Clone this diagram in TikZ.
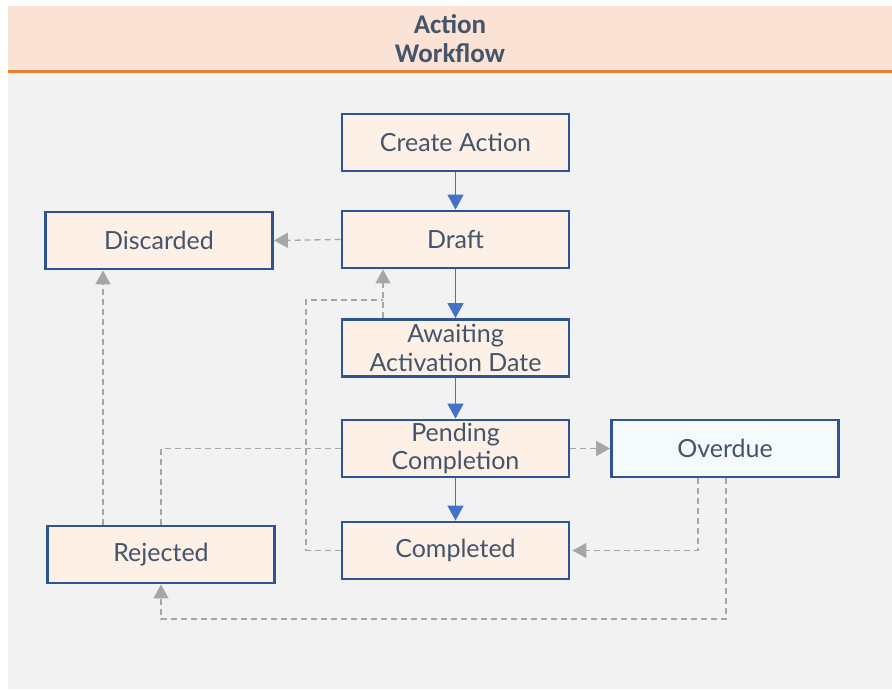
\documentclass[tikz,border=0pt]{standalone}
\usepackage{fontspec}
\setmainfont{Lato}
\newfontfamily\titlefont{Carlito}
\usetikzlibrary{arrows.meta}
\definecolor{hdrfill}{HTML}{FAE3D5}
\definecolor{hdrline}{HTML}{ED7D31}
\definecolor{bodyfill}{HTML}{F2F2F2}
\definecolor{boxfill}{HTML}{FDF0E7}
\definecolor{boxblue}{HTML}{F5FAFD}
\definecolor{boxline}{HTML}{2F5496}
\definecolor{txt}{HTML}{44546A}
\definecolor{flowblue}{HTML}{4472C4}
\definecolor{flowgray}{HTML}{A6A6A6}
\tikzset{
  statebox/.style={draw=boxline, fill=boxfill, line width=2.8pt, minimum width=227pt, minimum height=57pt, inner sep=0pt, text=txt, font=\fontsize{25}{28.5}\selectfont, align=center},
  mainflow/.style={draw=flowblue, line width=1.6pt, -{Triangle[length=15pt,width=16pt]}},
  sideflow/.style={draw=flowgray, line width=1.3pt, dash pattern=on 6pt off 4pt, -{Triangle[length=14pt,width=15pt]}},
  sideline/.style={draw=flowgray, line width=1.3pt, dash pattern=on 6pt off 4pt}
}
\begin{document}
\begin{tikzpicture}[x=1pt,y=-1pt]
\useasboundingbox (0,0) rectangle (892,691);
% panel
\fill[bodyfill] (8,72) rectangle (892,689);
\fill[hdrfill] (8,6) rectangle (892,71);
\draw[hdrline, line width=3pt] (8,71.5) -- (892,71.5);
\node[text=txt, font=\titlefont\bfseries\fontsize{27}{29}\selectfont, align=center] (title) at (450,38.5) {Action\\Workflow};
% states
\node[statebox] (create) at (455.5,142.5) {Create Action};
\node[statebox] (draft) at (455.5,239.5) {Draft};
\node[statebox] (disc) at (159,240.5) {Discarded};
\node[statebox] (await) at (455.5,348) {Awaiting\\Activation Date};
\node[statebox] (pend) at (455.5,448.5) {Pending\\Completion};
\node[statebox, fill=boxblue] (over) at (725,448.5) {Overdue};
\node[statebox] (comp) at (455.5,550.5) {Completed};
\node[statebox] (rej) at (161,554.5) {Rejected};
% helper coordinates
\coordinate (k0) at (306,300);
\coordinate (k1) at (383,300);
\coordinate (k3) at (103,400);
\coordinate (k4) at (698,500);
\coordinate (k5) at (726,619);
% main flow
\draw[mainflow] (create) -- (draft);
\draw[mainflow] (draft) -- (await);
\draw[mainflow] (await) -- (pend);
\draw[mainflow] (pend) -- (comp);
% side flows
\draw[sideflow] (draft.west) -- (disc.east);
\draw[sideflow] (pend.east) -- (over.west);
\draw[sideflow] (await.north -| k1) -- (draft.south -| k1);
\draw[sideline] (comp.west) -| (k0) -- (k1);
\draw[sideline] (pend.west) -| (rej.north);
\draw[sideflow] (rej.north -| k3) -- (disc.south -| k3);
\draw[sideflow, shorten >=2pt] (over.south -| k4) |- (comp.east);
\draw[sideflow] (over.south -| k5) -- (k5) -| (rej.south);
\end{tikzpicture}
\end{document}
